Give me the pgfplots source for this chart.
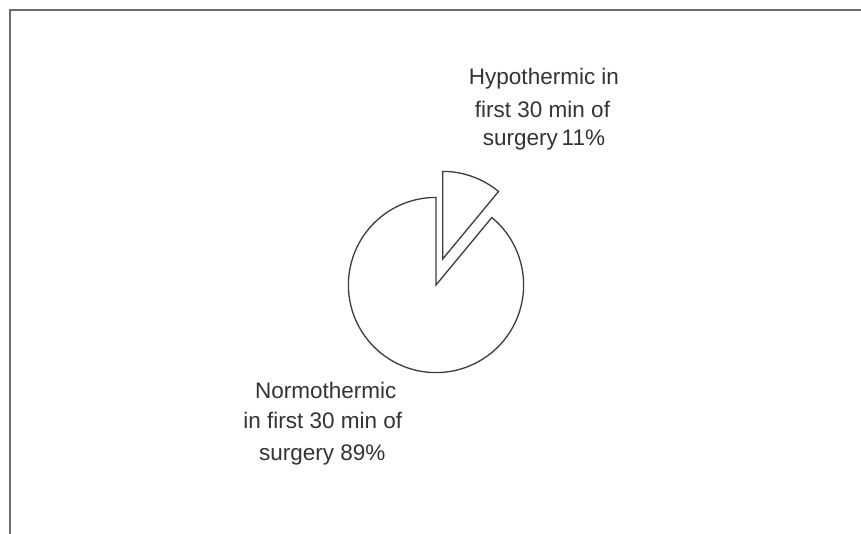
\documentclass[border=0pt]{standalone}
\usepackage{pgfplots}
\usepackage{pgfplotstable}
\pgfplotsset{compat=1.18}
\usepackage{fontspec}
\setmainfont{Liberation Sans}

\definecolor{edge}{HTML}{3C3C3C}
\definecolor{frame}{HTML}{6A6A6A}
\definecolor{txt}{HTML}{333333}

% share of patients (percent)
\pgfplotstableread{
group value
Normothermic 89
Hypothermic 11
}\piedata

\begin{document}
\begin{tikzpicture}
\useasboundingbox (0,0) rectangle (861pt,533pt);
\pgfplotstablegetelem{0}{value}\of\piedata \let\vN\pgfplotsretval
\pgfplotstablegetelem{1}{value}\of\piedata \let\vH\pgfplotsretval
% slices run counter-clockwise from 12 o'clock, normothermic first
\pgfmathsetmacro\aStart{90}
\pgfmathsetmacro\aMid{90+3.6*\vN}
\pgfmathsetmacro\aEnd{\aMid+3.6*\vH}
\def\cx{436}\def\cy{248}\def\r{87.6}
% pulled-out slice offset
\def\ox{6.7}\def\oy{26}
\begin{axis}[
  at={(0,0)}, anchor=south west,
  width=861pt, height=533pt, scale only axis,
  xmin=0, xmax=861, ymin=0, ymax=533,
  hide axis, clip=false,
]
% outer frame
\draw[frame, line width=2pt] (axis cs:9.5,-5) -- (axis cs:9.5,522.5) -- (axis cs:866,522.5);

% normothermic slice
\addplot[draw=edge, fill=white, line width=1.3pt, line join=miter,
  domain=\aStart:\aMid, samples=241, variable=\t]
  ({\cx+\r*cos(\t)},{\cy+\r*sin(\t)}) -- (axis cs:\cx,\cy) -- cycle;
% hypothermic slice, exploded
\addplot[draw=edge, fill=white, line width=1.3pt, line join=miter,
  domain=\aMid:\aEnd, samples=41, variable=\t]
  ({\cx+\ox+\r*cos(\t)},{\cy+\oy+\r*sin(\t)}) -- (axis cs:\cx+\ox,\cy+\oy) -- cycle;

% slice labels
\begin{scope}[every node/.style={anchor=base, inner sep=0pt, text=txt,
    font=\fontsize{22.5}{30}\selectfont}]
\node at (axis cs:544,448.7) {Hypothermic in};
\node at (axis cs:542.5,415.3) {first 30 min of};
\node at (axis cs:544,387.3) {surgery\,11\%};
\node at (axis cs:325.7,134.7) {Normothermic};
\node at (axis cs:322.8,104.7) {in first 30 min of};
\node at (axis cs:322.3,73) {surgery 89\%};
\end{scope}
\end{axis}
\end{tikzpicture}
\end{document}
